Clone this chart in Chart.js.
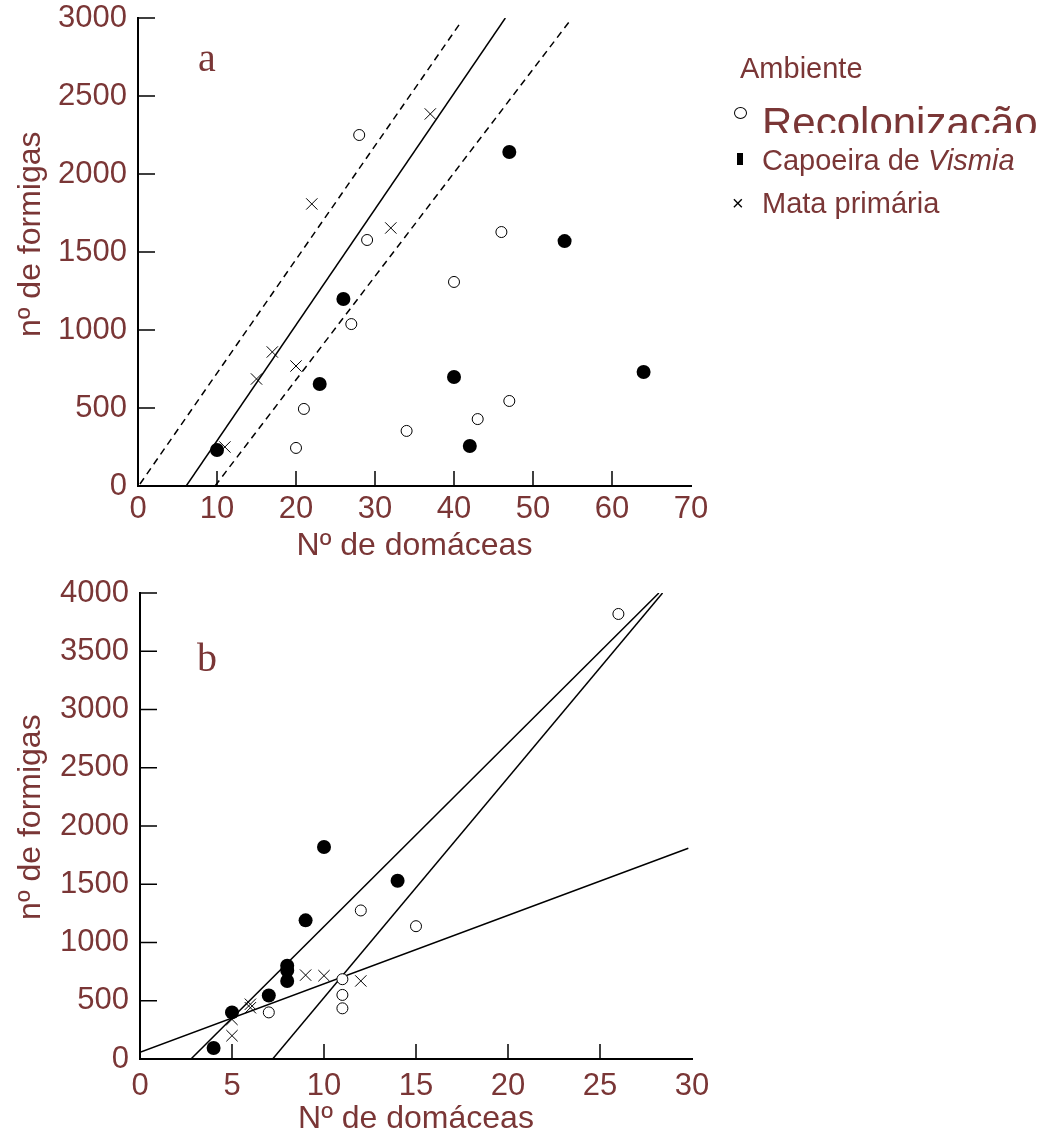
<!DOCTYPE html>
<html>
<head>
<meta charset="utf-8">
<script src="https://cdn.jsdelivr.net/npm/chart.js@4"></script>
<style>
  body { margin: 0; background: #fff; width: 1052px; height: 1138px; position: relative; overflow: hidden; font-family: "Liberation Sans", Arial, sans-serif; color: #7a3636; }
  canvas { position: absolute; left: 0; }
  .txt { position: absolute; line-height: 1; white-space: nowrap; }
  .panel { position: absolute; font-family: "Liberation Serif", "Times New Roman", serif; line-height: 1; }
</style>
</head>
<body>
<canvas id="chart-a" width="1052" height="565" style="top:0"></canvas>
<canvas id="chart-b" width="1052" height="563" style="top:575px"></canvas>

<div class="panel" style="left:198px; top:38px; font-size:40px;">a</div>
<div class="panel" style="left:197px; top:638px; font-size:40px;">b</div>

<!-- legenda -->
<div class="txt" style="left:740px; top:54px; font-size:29px;">Ambiente</div>
<div style="position:absolute; left:734px; top:107px; width:11px; height:10px; border:1px solid #000; border-radius:50%;"></div>
<div style="position:absolute; left:762px; top:102px; height:31px; overflow:hidden;">
  <div class="txt" style="position:relative; font-size:42px;">Recolonização</div>
</div>
<div style="position:absolute; left:737px; top:153px; width:6px; height:12px; background:#000;"></div>
<div class="txt" style="left:762px; top:146px; font-size:29px;">Capoeira de <i>Vismia</i></div>
<div class="txt" style="left:732px; top:193px; font-size:20px; color:#000;">×</div>
<div class="txt" style="left:762px; top:189px; font-size:29px;">Mata primária</div>

<script>
// painel a: nº de domáceas x nº de formigas
const recA_x = [28, 29, 27, 21, 20, 34, 46, 40, 47, 43];
const recA_y = [2250, 1577, 1038, 494, 244, 353, 1628, 1308, 545, 429];
const capA_x = [47, 54, 26, 23, 40, 64, 42, 10];
const capA_y = [2141, 1570, 1199, 654, 699, 731, 256, 231];
const mataA_x = [37, 22, 32, 17, 15, 20, 11];
const mataA_y = [2385, 1808, 1654, 859, 686, 769, 250];
// reta ajustada e limites de confiança (mata primária)
const fitA_x = [6.1, 46.5];
const fitA_y = [0, 3000];
const upA_x = [0.25, 40.9];
const upA_y = [13, 2975];
const loA_x = [9.75, 54.8];
const loA_y = [0, 2990];

// painel b
const recB_x = [12, 15, 11, 11, 11, 7, 26];
const recB_y = [1275, 1140, 685, 550, 435, 400, 3820];
const capB_x = [10, 14, 9, 8, 8, 8, 7, 5, 4];
const capB_y = [1820, 1530, 1190, 800, 760, 670, 545, 400, 95];
const mataB_x = [5, 5, 6, 6, 9, 10, 12];
const mataB_y = [200, 340, 470, 440, 720, 715, 670];
const line1B_x = [2.77, 28.2];
const line1B_y = [0, 4000];
const line2B_x = [7.21, 28.4];
const line2B_y = [0, 4000];
const line3B_x = [0, 29.8];
const line3B_y = [58, 1809];

const TEXT = '#7a3636';
const pts = (xs, ys) => xs.map((x, i) => ({ x, y: ys[i] }));

// ticks para dentro do gráfico
const inwardTicks = {
  id: 'inwardTicks',
  afterDraw(chart) {
    const { ctx, scales: { x, y } } = chart;
    ctx.save();
    ctx.strokeStyle = '#000';
    ctx.lineWidth = 1.5;
    ctx.beginPath();
    x.ticks.forEach((t) => {
      if (t.value === x.min || t.value === x.max) return;
      const px = x.getPixelForValue(t.value);
      ctx.moveTo(px, x.top);
      ctx.lineTo(px, x.top - 15);
    });
    y.ticks.forEach((t) => {
      if (t.value === y.min) return;
      const py = y.getPixelForValue(t.value);
      ctx.moveTo(y.right, py);
      ctx.lineTo(y.right + 17, py);
    });
    ctx.stroke();
    ctx.restore();
  },
};

function makeChart(canvas, cfg) {
  const font = { family: '"Liberation Sans", Arial, sans-serif', size: 31 };
  const titleFont = { family: '"Liberation Sans", Arial, sans-serif', size: 32 };
  return new Chart(canvas, {
    type: 'scatter',
    data: {
      datasets: [
        { data: pts(cfg.rec[0], cfg.rec[1]), pointStyle: 'circle', pointRadius: 5.5, borderWidth: 1, borderColor: '#000', backgroundColor: '#fff' },
        { data: pts(cfg.cap[0], cfg.cap[1]), pointStyle: 'circle', pointRadius: 7, borderWidth: 0, backgroundColor: '#000' },
        { data: pts(cfg.mata[0], cfg.mata[1]), pointStyle: 'crossRot', pointRadius: 8, borderWidth: 1, borderColor: '#000' },
        ...cfg.lines.map((l) => ({
          data: pts(l.x, l.y),
          showLine: true,
          pointRadius: 0,
          borderColor: '#000',
          borderWidth: 1.5,
          borderDash: l.dash || [],
        })),
      ],
    },
    options: {
      responsive: false,
      animation: false,
      events: [],
      layout: { padding: { top: 18, right: cfg.right, left: 0, bottom: 0 } },
      plugins: { legend: { display: false }, tooltip: { enabled: false } },
      scales: {
        x: {
          min: 0, max: cfg.xMax,
          afterFit: (s) => { s.height = 79; },
          grid: { display: false, drawTicks: false },
          border: { display: true, color: '#000', width: 2 },
          ticks: { stepSize: cfg.xStep, color: TEXT, font, padding: cfg.xPad, maxRotation: 0, callback: (v) => String(v) },
          title: { display: true, text: 'Nº de domáceas', color: TEXT, font: titleFont, padding: { top: 0, bottom: cfg.titlePad } },
        },
        y: {
          min: 0, max: cfg.yMax,
          afterFit: (s) => { s.width = cfg.left; s.paddingTop = 0; s.paddingBottom = 0; },
          grid: { display: false, drawTicks: false },
          border: { display: true, color: '#000', width: 2 },
          ticks: { stepSize: 500, color: TEXT, font, padding: 11, callback: (v) => String(v) },
          // espaços à esquerda deslocam o título um pouco para cima, como no original
          title: { display: true, text: '\u00a0'.repeat(cfg.yShift) + 'nº de formigas', color: TEXT, font: titleFont, padding: { top: 12, bottom: 0 } },
        },
      },
    },
    plugins: [inwardTicks],
  });
}

makeChart(document.getElementById('chart-a'), {
  rec: [recA_x, recA_y], cap: [capA_x, capA_y], mata: [mataA_x, mataA_y],
  lines: [
    { x: fitA_x, y: fitA_y },
    { x: upA_x, y: upA_y, dash: [7, 5] },
    { x: loA_x, y: loA_y, dash: [7, 5] },
  ],
  xMax: 70, xStep: 10, yMax: 3000, left: 138, right: 361, xPad: 5, titlePad: 0, yShift: 4,
});

makeChart(document.getElementById('chart-b'), {
  rec: [recB_x, recB_y], cap: [capB_x, capB_y], mata: [mataB_x, mataB_y],
  lines: [
    { x: line1B_x, y: line1B_y },
    { x: line2B_x, y: line2B_y },
    { x: line3B_x, y: line3B_y },
  ],
  xMax: 30, xStep: 5, yMax: 4000, left: 140, right: 360, xPad: 9, titlePad: 0, yShift: 2,
});
</script>
</body>
</html>
